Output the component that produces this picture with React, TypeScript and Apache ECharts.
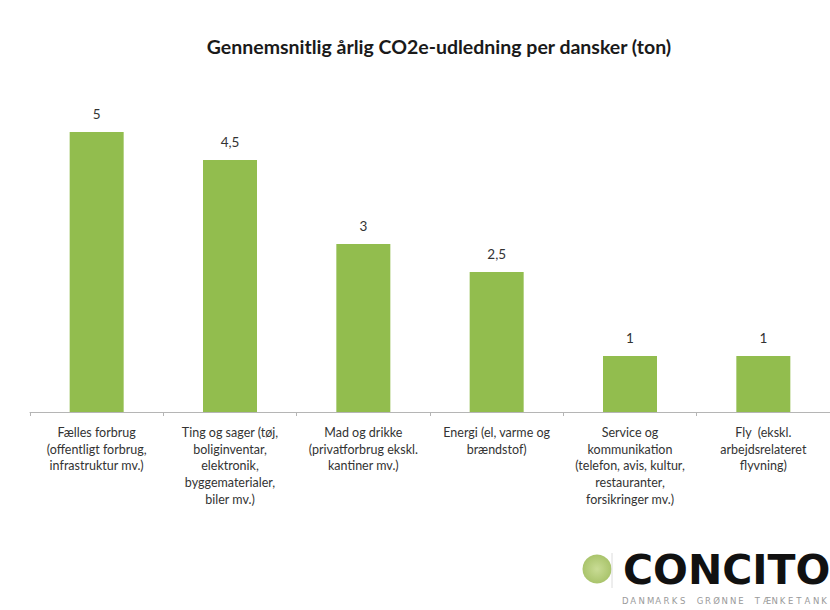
import React, { useEffect, useRef } from "react";
import * as echarts from "echarts";

const TITLE = "Gennemsnitlig årlig CO2e-udledning per dansker (ton)";
const categories = [
  "Fælles forbrug\n(offentligt forbrug,\ninfrastruktur mv.)",
  "Ting og sager (tøj,\nboliginventar,\nelektronik,\nbyggematerialer,\nbiler mv.)",
  "Mad og drikke\n(privatforbrug ekskl.\nkantiner mv.)",
  "Energi (el, varme og\nbrændstof)",
  "Service og\nkommunikation\n(telefon, avis, kultur,\nrestauranter,\nforsikringer mv.)",
  "Fly  (ekskl.\narbejdsrelateret\nflyvning)",
];
const values = [5, 4.5, 3, 2.5, 1, 1];
const LOGO_NAME = "CONCITO";
const LOGO_SUB = "DANMARKS GRØNNE TÆNKETANK";

export default function App() {
  const ref = useRef<HTMLDivElement>(null);
  useEffect(() => {
    if (!ref.current) return;
    const chart = echarts.init(ref.current, null, { renderer: "svg" });
    const subChars = LOGO_SUB.split("");
    const subStep = 205 / (subChars.length - 0.3);
    chart.setOption({
      animation: false,
      backgroundColor: "#ffffff",
      title: {
        text: TITLE,
        left: 434,
        top: 31,
        textAlign: "center",
        textStyle: { fontFamily: "Lato", fontWeight: "bold", fontSize: 19.5, color: "#1a1a1a" },
      },
      grid: { left: 30, top: 76, width: 807, height: 336, containLabel: false },
      xAxis: {
        type: "category",
        data: categories,
        axisLine: { lineStyle: { color: "#b5b5b5", width: 1 } },
        axisTick: { show: true, length: 4, lineStyle: { color: "#b5b5b5" }, interval: 0 },
        axisLabel: {
          interval: 0,
          margin: 12,
          fontFamily: "Lato",
          fontSize: 12.5,
          lineHeight: 16.7,
          color: "#333333",
          align: "center",
        },
      },
      yAxis: { type: "value", min: 0, max: 6, show: false, splitLine: { show: false } },
      series: [
        {
          type: "bar",
          data: values,
          barWidth: 54,
          itemStyle: { color: "#92bd4e" },
          label: {
            show: true,
            position: "top",
            distance: 11,
            fontFamily: "Lato",
            fontSize: 13.5,
            color: "#333333",
            formatter: (p: any) => String(p.value).replace(".", ","),
          },
        },
      ],
      graphic: [
        {
          type: "circle",
          shape: { cx: 597, cy: 569, r: 14.5 },
          style: {
            fill: new echarts.graphic.RadialGradient(0.5, 0.5, 0.6, [
              { offset: 0, color: "#c9dc95" },
              { offset: 1, color: "#a3bf63" },
            ]),
          },
        },
        {
          type: "line",
          shape: { x1: 612, y1: 553, x2: 612, y2: 588 },
          style: { stroke: "#dcdcdc", lineWidth: 1 },
        },
        {
          type: "text",
          x: 623,
          y: 570,
          style: {
            text: LOGO_NAME,
            fontFamily: "DejaVu Sans",
            fontWeight: "bold",
            fontSize: 41,
            fill: "#111111",
            verticalAlign: "middle",
          },
        },
        ...subChars.map((c, i) => ({
          type: "text",
          x: 622 + i * subStep,
          y: 601,
          style: {
            text: c,
            fontFamily: "DejaVu Sans",
            fontSize: 8.5,
            fill: "#9a9a9a",
            verticalAlign: "middle",
          },
        })),
      ],
    });
    return () => chart.dispose();
  }, []);
  return (
    <div
      ref={ref}
      style={{ position: "absolute", left: 0, top: 0, width: 830, height: 610 }}
    />
  );
}
